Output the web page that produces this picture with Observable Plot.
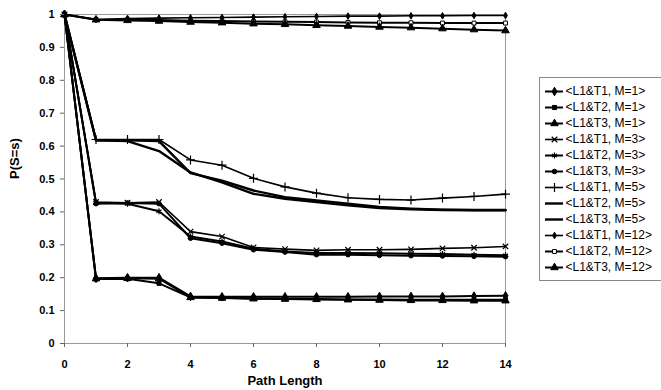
<!DOCTYPE html>
<html>
<head>
<meta charset="utf-8">
<script src="https://cdn.jsdelivr.net/npm/d3@7"></script>
<script src="https://cdn.jsdelivr.net/npm/@observablehq/plot@0.6"></script>
<style>
  body { margin: 0; background: #fff; }
  #wrap { position: relative; width: 661px; height: 390px; background: #fff; overflow: hidden; }
  #legend { position: absolute; left: 539px; top: 77px; width: 124px; height: 204px; border: 1px solid #888; box-sizing: border-box; background: #fff; }
</style>
</head>
<body>
<div id="wrap"><div id="chart"></div><div id="legend"></div></div>
<script>
// ---- data ----
const pathLength = [0,1,2,3,4,5,6,7,8,9,10,11,12,13,14];
const xTicks = [0,2,4,6,8,10,12,14];
const yTicks = [0,0.1,0.2,0.3,0.4,0.5,0.6,0.7,0.8,0.9,1];
const xTitle = "Path Length";
const yTitle = "P(S=s)";

const seriesNames = [
  "<L1&T1, M=1>", "<L1&T2, M=1>", "<L1&T3, M=1>",
  "<L1&T1, M=3>", "<L1&T2, M=3>", "<L1&T3, M=3>",
  "<L1&T1, M=5>", "<L1&T2, M=5>", "<L1&T3, M=5>",
  "<L1&T1, M=12>", "<L1&T2, M=12>", "<L1&T3, M=12>"
];

const m1t1 = [1,0.198,0.200,0.200,0.143,0.142,0.142,0.142,0.142,0.142,0.143,0.143,0.143,0.144,0.145];
const m1t2 = [1,0.196,0.197,0.183,0.140,0.139,0.137,0.136,0.135,0.134,0.134,0.133,0.133,0.133,0.133];
const m1t3 = [1,0.197,0.198,0.197,0.140,0.138,0.136,0.135,0.134,0.133,0.132,0.131,0.131,0.130,0.130];

const m3t1 = [1,0.430,0.428,0.430,0.340,0.325,0.292,0.287,0.283,0.285,0.285,0.286,0.289,0.291,0.295];
const m3t2 = [1,0.428,0.425,0.402,0.325,0.310,0.288,0.280,0.275,0.275,0.274,0.273,0.272,0.270,0.268];
const m3t3 = [1,0.425,0.427,0.425,0.320,0.305,0.285,0.278,0.270,0.270,0.268,0.267,0.266,0.265,0.264];

const m5t1 = [1,0.620,0.620,0.620,0.558,0.542,0.502,0.476,0.457,0.443,0.438,0.436,0.442,0.447,0.454];
const m5t2 = [1,0.618,0.615,0.585,0.520,0.490,0.455,0.440,0.430,0.420,0.412,0.408,0.406,0.405,0.405];
const m5t3 = [1,0.618,0.618,0.615,0.518,0.495,0.465,0.445,0.435,0.425,0.415,0.410,0.407,0.406,0.406];

const m12t1 = [1,0.985,0.988,0.989,0.990,0.991,0.992,0.993,0.994,0.995,0.995,0.996,0.996,0.997,0.997];
const m12t2 = [1,0.985,0.984,0.983,0.981,0.980,0.979,0.978,0.977,0.976,0.975,0.975,0.974,0.974,0.974];
const m12t3 = [1,0.984,0.982,0.980,0.977,0.975,0.972,0.970,0.967,0.965,0.962,0.960,0.957,0.954,0.951];

const seriesValues = [m1t1,m1t2,m1t3,m3t1,m3t2,m3t3,m5t1,m5t2,m5t3,m12t1,m12t2,m12t3];

// marker styles
const markerSymbol = ["diamond","square","triangle","times","asterisk","circle","plus",null,null,"diamond","square","triangle"];
const markerFill   = ["black","black","black","none","none","black","none",null,null,"black","white","black"];
const markerR      = [2.6,2.3,2.8,2.6,2.8,2.3,3,0,0,2.0,2.2,2.8];
const lineWidth    = [2,2,2,1.6,2,2,1.6,2.4,2.4,1.6,2,2];

// ---- build table ----
const rows = [];
seriesNames.forEach((name, i) => {
  pathLength.forEach((x, j) => rows.push({series: name, idx: i, x, y: seriesValues[i][j]}));
});

const font = "'Liberation Sans', Arial, sans-serif";

const marks = [
  Plot.frame({stroke: "#999", strokeWidth: 1})
];
seriesNames.forEach((name, i) => {
  const d = rows.filter(r => r.idx === i);
  marks.push(Plot.line(d, {x: "x", y: "y", stroke: "black", strokeWidth: lineWidth[i]}));
});
seriesNames.forEach((name, i) => {
  if (!markerSymbol[i]) return;
  const d = rows.filter(r => r.idx === i);
  const strokeOnly = markerFill[i] === "none";
  marks.push(Plot.dot(d, {
    x: "x", y: "y", symbol: markerSymbol[i], r: markerR[i],
    fill: strokeOnly ? "none" : markerFill[i],
    stroke: "black", strokeWidth: strokeOnly ? 1.2 : 1
  }));
});
marks.push(
  Plot.axisX({ticks: xTicks, tickSize: 4, tickPadding: 13, stroke: "#666",
              label: null, fontWeight: "bold"}),
  Plot.axisY({ticks: yTicks, tickSize: 4, tickPadding: 6, stroke: "#666",
              label: null, fontWeight: "bold", tickFormat: d => String(+d.toFixed(1))}),
  Plot.text([xTitle], {frameAnchor: "bottom", text: d => d, dy: 41, fontWeight: "bold", fontSize: 13, fill: "black"}),
  Plot.text([yTitle], {frameAnchor: "left", text: d => d, dx: -50, rotate: -90, fontWeight: "bold", fontSize: 13, fill: "black"})
);

const chart = Plot.plot({
  width: 661, height: 390,
  marginLeft: 64, marginRight: 156, marginTop: 14, marginBottom: 47,
  x: {domain: [0, 14]},
  y: {domain: [0, 1]},
  style: {fontFamily: font, fontSize: "11px", color: "black", background: "transparent"},
  marks
});
document.getElementById("chart").appendChild(chart);

// ---- legend ----
const legendRows = seriesNames.map((name, i) => ({name, i}));
const legendMarks = [
  Plot.ruleY(legendRows, {y: "name", x1: 5, x2: 23, stroke: "black", strokeWidth: d => lineWidth[d.i]})
];
legendRows.forEach(r => {
  if (!markerSymbol[r.i]) return;
  const strokeOnly = markerFill[r.i] === "none";
  legendMarks.push(Plot.dot([r], {x: 14, y: "name", symbol: markerSymbol[r.i], r: markerR[r.i],
    fill: strokeOnly ? "none" : markerFill[r.i], stroke: "black", strokeWidth: strokeOnly ? 1.2 : 1}));
});
legendMarks.push(Plot.text(legendRows, {x: 25, y: "name", text: "name", textAnchor: "start", fill: "black"}));

const legend = Plot.plot({
  width: 122, height: 202,
  margin: 0, marginTop: 2, marginBottom: 2,
  x: {type: "linear", domain: [0, 122], range: [0, 122], axis: null},
  y: {type: "point", domain: seriesNames, padding: 0.5, axis: null},
  style: {fontFamily: font, fontSize: "12px", color: "black", background: "transparent"},
  marks: legendMarks
});
document.getElementById("legend").appendChild(legend);
</script>
</body>
</html>
